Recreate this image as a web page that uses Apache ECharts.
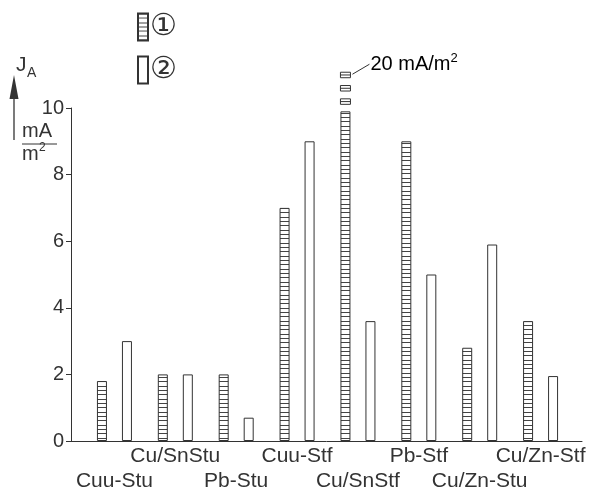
<!DOCTYPE html>
<html>
<head>
<meta charset="utf-8">
<script src="https://cdn.jsdelivr.net/npm/echarts@6/dist/echarts.min.js"></script>
<style>
  html, body { margin: 0; padding: 0; background: #fff; }
  #chart { width: 598px; height: 490px; }
</style>
</head>
<body>
<div id="chart"></div>
<script>
const categories = ['Cuu-Stu', 'Cu/SnStu', 'Pb-Stu', 'Cuu-Stf', 'Cu/SnStf', 'Pb-Stf', 'Cu/Zn-Stu', 'Cu/Zn-Stf']
const series1 = [1.8, 2.0, 2.0, 7.0, 20, 9.0, 2.8, 3.6]
const series2 = [3.0, 2.0, 0.7, 9.0, 3.6, 5.0, 5.9, 1.95]
const legendNames = ['\u2460', '\u2461']
const yMin = 0
const yMax = 10
const yInterval = 2
const breakCap = 9.9 // bars above the axis are cut here

const ink = '#333'
const font = '"Liberation Sans", Arial, sans-serif'

// horizontal hatching for series 1
function hatch() {
  const c = document.createElement('canvas')
  c.width = 4
  c.height = 13
  const ctx = c.getContext('2d')
  ctx.fillStyle = '#fff'
  ctx.fillRect(0, 0, 4, 13)
  ctx.fillStyle = '#444'
  ctx.fillRect(0, 0, 4, 1)
  ctx.fillRect(0, 4, 4, 1)
  ctx.fillRect(0, 9, 4, 1)
  return { image: c, repeat: 'repeat' }
}
const hatchFill = hatch()

const chart = echarts.init(document.getElementById('chart'), null, { renderer: 'canvas' })

chart.setOption({
  backgroundColor: '#fff',
  animation: false,
  textStyle: { fontFamily: font, color: ink },
  legend: {
    data: legendNames,
    orient: 'vertical',
    left: 132,
    top: 7,
    itemWidth: 10,
    itemHeight: 27,
    itemGap: 13,
    icon: 'rect',
    selectedMode: false,
    textStyle: { fontSize: 30, lineHeight: 27, fontFamily: '"DejaVu Sans", sans-serif', color: ink, padding: [0, 0, 0, -3] }
  },
  grid: [
    { left: 71, right: 16, top: 108, bottom: 49, outerBoundsMode: 'none' },
    { left: 84, right: 27, top: 108, bottom: 49, outerBoundsMode: 'none' }
  ],
  xAxis: [
    {
      type: 'value',
      gridIndex: 0,
      min: 0,
      max: 1,
      axisLine: { show: true, onZero: false, lineStyle: { color: ink, width: 1 } },
      axisTick: { show: false },
      axisLabel: { show: false },
      splitLine: { show: false }
    },
    {
      type: 'category',
      gridIndex: 1,
      data: categories,
      axisLine: { show: false },
      axisTick: { show: false },
      axisLabel: {
        interval: 0,
        margin: 3,
        fontSize: 21,
        lineHeight: 25,
        color: ink,
        formatter: (v, i) => (i % 2 ? v : '\n' + v)
      },
      splitLine: { show: false }
    }
  ],
  yAxis: [
    {
      type: 'value',
      gridIndex: 0,
      min: yMin,
      max: yMax,
      interval: yInterval,
      axisLine: { show: true, lineStyle: { color: ink, width: 1 } },
      axisTick: { show: true, length: 5, lineStyle: { color: ink } },
      axisLabel: { fontSize: 20, margin: 7, color: ink },
      splitLine: { show: false }
    },
    {
      type: 'value',
      gridIndex: 1,
      min: yMin,
      max: yMax,
      show: false
    }
  ],
  graphic: [
    // J_A arrow
    { type: 'line', shape: { x1: 14, y1: 96, x2: 14, y2: 140 }, style: { stroke: ink, lineWidth: 1.3 } },
    { type: 'polygon', shape: { points: [[14, 75], [9.5, 99], [18.5, 99]] }, style: { fill: ink } },
    { type: 'text', x: 16, y: 55, style: { text: 'J', fontSize: 21, fontFamily: font, fill: ink } },
    { type: 'text', x: 27, y: 66, style: { text: 'A', fontSize: 14, fontFamily: font, fill: ink } },
    // unit mA / m²
    { type: 'text', x: 22, y: 121, style: { text: 'mA', fontSize: 20, fontFamily: font, fill: ink } },
    { type: 'line', shape: { x1: 22, y1: 144, x2: 57, y2: 144 }, style: { stroke: ink, lineWidth: 1 } },
    { type: 'text', x: 22, y: 144, style: { text: 'm', fontSize: 20, fontFamily: font, fill: ink } },
    { type: 'text', x: 39, y: 142, style: { text: '2', fontSize: 12, fontFamily: font, fill: ink } }
  ],
  series: [
    {
      name: legendNames[0],
      type: 'bar',
      xAxisIndex: 1,
      yAxisIndex: 1,
      data: series1.map(v => Math.min(v, breakCap)),
      barWidth: 10,
      barGap: '150%',
      itemStyle: { color: hatchFill, borderColor: ink, borderWidth: 1 }
    },
    {
      name: legendNames[1],
      type: 'bar',
      xAxisIndex: 1,
      yAxisIndex: 1,
      data: series2,
      barWidth: 10,
      barGap: '150%',
      itemStyle: { color: '#fff', borderColor: ink, borderWidth: 1 }
    },
    {
      // broken top of the bars that run off the axis
      type: 'custom',
      xAxisIndex: 1,
      yAxisIndex: 1,
      silent: true,
      data: series1.map((v, i) => [i, v]).filter(d => d[1] > yMax),
      renderItem(params, api) {
        const base = api.coord([api.value(0), breakCap])
        const cx = base[0] - 12.5
        const children = []
        let boxTop = base[1]
        for (let k = 0; k < 3; k++) {
          const bottom = base[1] - 7 - 13.3 * k
          boxTop = bottom - 5.5
          children.push({
            type: 'rect',
            shape: { x: cx - 5, y: boxTop, width: 10, height: 5.5 },
            style: { fill: '#fff', stroke: ink, lineWidth: 1 }
          })
          children.push({
            type: 'line',
            shape: { x1: cx - 5, y1: boxTop + 2.75, x2: cx + 5, y2: boxTop + 2.75 },
            style: { stroke: ink, lineWidth: 1 }
          })
        }
        children.push({
          type: 'line',
          shape: { x1: cx + 7, y1: boxTop + 2, x2: cx + 24, y2: boxTop - 8 },
          style: { stroke: ink, lineWidth: 1 }
        })
        children.push({
          type: 'text',
          x: cx + 25,
          y: boxTop - 8,
          style: {
            text: '{a|' + api.value(1) + ' mA/m}{s|2}',
            verticalAlign: 'middle',
            rich: {
              a: { fontSize: 20, fontFamily: font, color: ink },
              s: { fontSize: 13, fontFamily: font, color: ink, padding: [0, 0, 11, 0] }
            }
          }
        })
        return { type: 'group', children }
      }
    }
  ]
})
</script>
</body>
</html>
